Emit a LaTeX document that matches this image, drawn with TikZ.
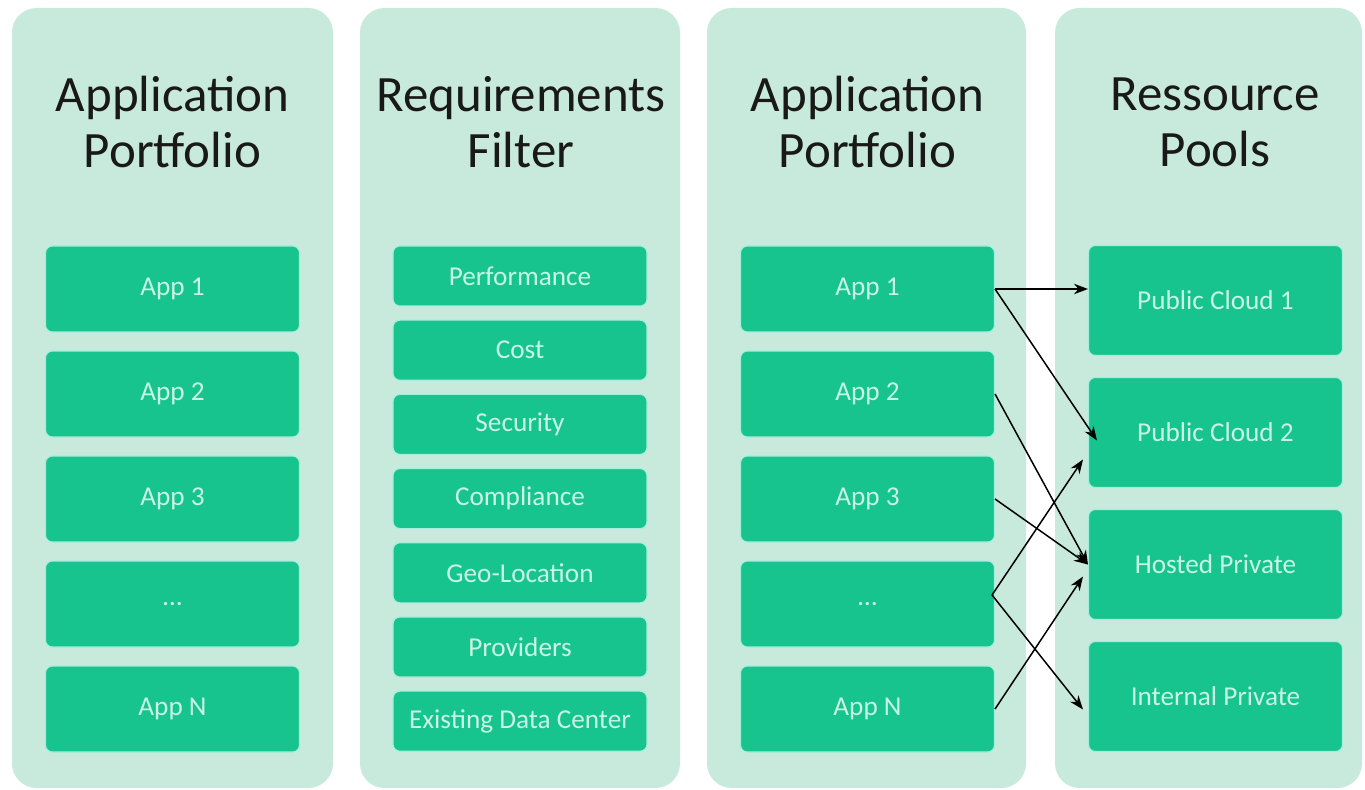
\documentclass[tikz,border=0pt]{standalone}
\usepackage{fontspec}
\setmainfont{Carlito}
\usetikzlibrary{arrows.meta,calc}
\definecolor{panelbg}{RGB}{200,234,220}
\definecolor{boxbg}{RGB}{24,196,142}
\definecolor{boxline}{RGB}{165,238,222}
\definecolor{boxtext}{RGB}{200,245,228}
\definecolor{titletext}{RGB}{25,25,25}
\tikzset{
    panel/.style={fill=panelbg,rounded corners=14pt},
    title/.style={inner sep=0pt,align=center,text=titletext,font=\fontsize{29}{32}\selectfont},
    item/.style={draw=boxline,line width=0.6pt,fill=boxbg,rounded corners=4pt,text=boxtext,
        font=\fontsize{15.5}{18}\selectfont,minimum width=254\px,inner sep=0pt},
    link/.style={line width=0.85pt,-{Stealth[length=8pt,width=6pt]}}
}
\newlength{\px}
\setlength{\px}{0.02cm}
\begin{document}
\begin{tikzpicture}[x=0.02cm,y=-0.02cm]
            \useasboundingbox[fill=white] (0,0) rectangle (1365,790);
            % columns
            \fill[panel] (12,8) rectangle (333,788);
            \fill[panel] (360,8) rectangle (680,788);
            \fill[panel] (707,8) rectangle (1026,788);
            \fill[panel] (1055,8) rectangle (1362,788);
            \node[title] (t1) at (172.5,122) {Application\\Portfolio};
            \node[title] (t2) at (521,122) {Requirements\\Filter};
            \node[title] (t3) at (867.5,122) {Application\\Portfolio};
            \node[title] (t4) at (1215,122) {Ressource\\Pools};
            % boxes
            \foreach \t [count=\i] in {App 1,App 2,App 3,{\ldots},App N}{
                \node[item,minimum height=86\px] (p\i) at (172.5,{289+105*(\i-1)}) {\t};
                \node[item,minimum height=86\px] (q\i) at (867.5,{289+105*(\i-1)}) {\t};
            }
            \foreach \t [count=\i] in {Performance,Cost,Security,Compliance,Geo-Location,Providers,Existing Data Center}
                \node[item,minimum height=60\px] (r\i) at (520,{276+74.2*(\i-1)}) {\t};
            \foreach \t [count=\i] in {Public Cloud 1,Public Cloud 2,Hosted Private,Internal Private}
                \node[item,minimum height=110\px] (c\i) at (1215.5,{300.5+132*(\i-1)}) {\t};
            % mapping
            \coordinate (q4out) at ($(q4.east)+(-3,-9)$);
            \draw[link] (q1.east) -- (q1.east -| c1.west);
            \draw[link] (q1.east) -- ($(c2.west)+(9,8)$);
            \draw[link] (q2.east) -- (c3.west);
            \draw[link] (q3.east) -- (c3.west);
            \draw[link] (q4out) -- ($(c2.west)+(-5,27)$);
            \draw[link] (q4out) -- ($(c4.west)+(-5,13)$);
            \draw[link] (q5.east) -- ($(c3.west)+(-5,12)$);
        \end{tikzpicture}
\end{document}
